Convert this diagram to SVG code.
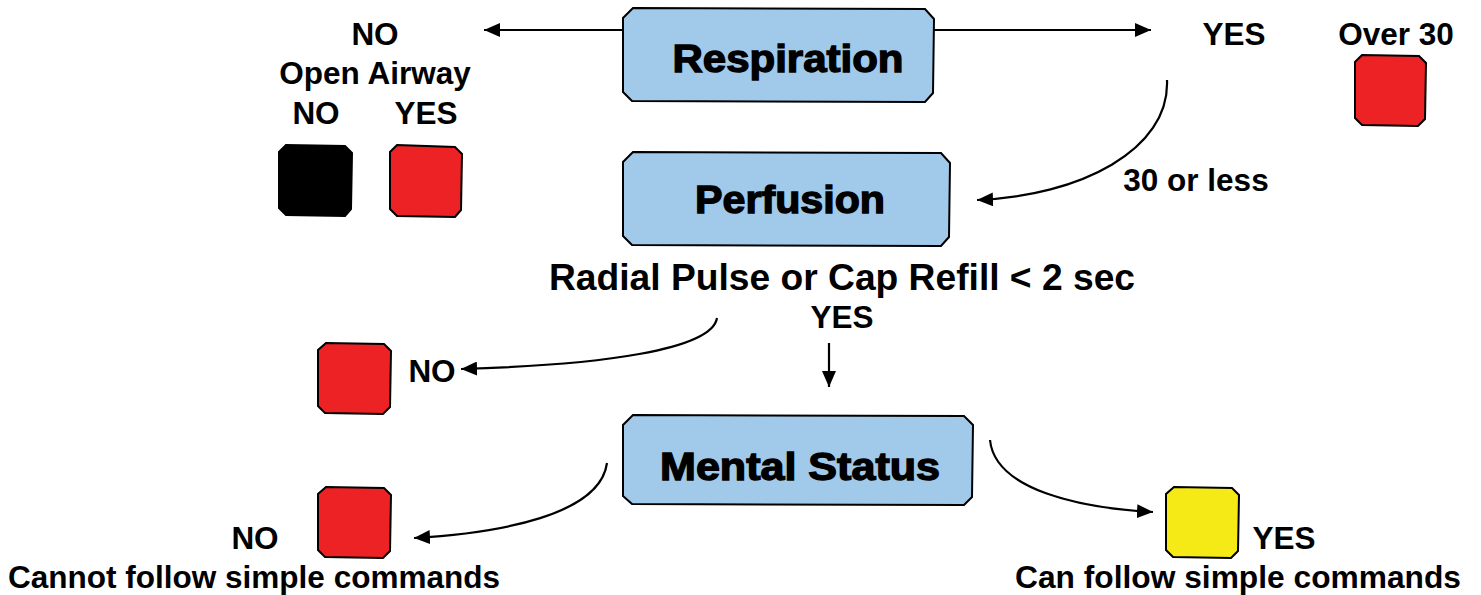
<svg xmlns="http://www.w3.org/2000/svg" width="1481" height="595" viewBox="0 0 1481 595">
<defs>
<marker id="arr" markerUnits="userSpaceOnUse" markerWidth="18" markerHeight="14" refX="16" refY="7" orient="auto">
<path d="M0,0 L16,7 L0,14 Z" fill="#000"/>
</marker>
<style>
.box{fill:#a0c9ea;stroke:#000;stroke-width:2}
.sq{stroke:#000;stroke-width:2}
.red{fill:#ed2224}
.yel{fill:#f5e916}
.blk{fill:#000}
.title{font-family:"Liberation Sans",Arial,sans-serif;font-weight:bold;font-size:38px;fill:#000;stroke:#000;stroke-width:1.3;text-anchor:middle}
.lbl{font-family:"Liberation Sans",Arial,sans-serif;font-weight:bold;font-size:31.5px;fill:#000;text-anchor:middle}
.big{font-family:"Liberation Sans",Arial,sans-serif;font-weight:bold;font-size:36px;fill:#000;text-anchor:middle}
.con{fill:none;stroke:#000;stroke-width:2.2;marker-end:url(#arr)}
</style>
</defs>
<rect width="1481" height="595" fill="#fff"/>

<g id="connectors">
<path class="con" d="M623,30 H484"/>
<path class="con" d="M934,30 H1151"/>
<path class="con" d="M1167,80 C1170,150 1080,196 977,200"/>
<path class="con" d="M717,318 C712,350 600,365 461,369"/>
<path class="con" d="M829,343 V387"/>
<path class="con" d="M607,463 C600,515 500,533 414,538"/>
<path class="con" d="M990,440 C995,490 1080,508 1153,512"/>
</g>

<g id="respiration">
<polygon class="box" points="633,8 925,9 934,19 933,93 925,102 632,101 623,92 623,18"/>
<text class="title" x="788" y="72" textLength="231" lengthAdjust="spacingAndGlyphs">Respiration</text>
</g>

<g id="perfusion">
<polygon class="box" points="633,152 941,153 950,163 949,237 941,246 632,245 623,236 623,162"/>
<text class="title" x="790" y="213" textLength="190" lengthAdjust="spacingAndGlyphs">Perfusion</text>
</g>

<g id="mental-status">
<polygon class="box" points="633,415 964,416 973,425 972,497 964,505 632,504 623,496 623,425"/>
<text class="title" x="800" y="480" textLength="280" lengthAdjust="spacingAndGlyphs">Mental Status</text>
</g>

<g id="no-airway">
<text class="lbl" x="375" y="45">NO</text>
<text class="lbl" x="375" y="84">Open Airway</text>
<text class="lbl" x="316" y="124">NO</text>
<text class="lbl" x="426" y="124">YES</text>
</g>

<g id="black-tag">
<polygon class="sq blk" points="286,145 345,146 352,153 351,209 345,216 286,215 279,208 279,152"/>
</g>

<g id="red-airway-yes">
<polygon class="sq red" points="397,145 455,147 462,154 461,210 455,217 397,216 390,209 390,152"/>
</g>

<g id="yes-resp">
<text class="lbl" x="1234" y="45">YES</text>
</g>

<g id="over30">
<text class="lbl" x="1396" y="45">Over 30</text>
<polygon class="sq red" points="1362,55 1419,56 1426,63 1425,119 1418,126 1362,125 1355,118 1355,62"/>
</g>

<g id="thirty-or-less">
<text class="lbl" x="1196" y="191">30 or less</text>
</g>

<g id="radial">
<text class="big" x="842" y="290" textLength="586" lengthAdjust="spacingAndGlyphs">Radial Pulse or Cap Refill &lt; 2 sec</text>
<text class="lbl" x="842" y="328">YES</text>
</g>

<g id="perf-no">
<polygon class="sq red" points="326,343 384,344 391,351 390,407 383,414 325,413 318,406 318,350"/>
<text class="lbl" x="432" y="382">NO</text>
</g>

<g id="cannot-follow">
<polygon class="sq red" points="326,487 384,488 391,495 390,551 383,558 325,557 318,550 318,494"/>
<text class="lbl" x="255" y="549">NO</text>
<text class="lbl" x="254" y="588" textLength="492" lengthAdjust="spacingAndGlyphs">Cannot follow simple commands</text>
</g>

<g id="can-follow">
<polygon class="sq yel" points="1174,487 1232,488 1239,495 1238,551 1231,558 1173,557 1166,550 1166,494"/>
<text class="lbl" x="1284" y="549">YES</text>
<text class="lbl" x="1238" y="588" textLength="446" lengthAdjust="spacingAndGlyphs">Can follow simple commands</text>
</g>
</svg>
